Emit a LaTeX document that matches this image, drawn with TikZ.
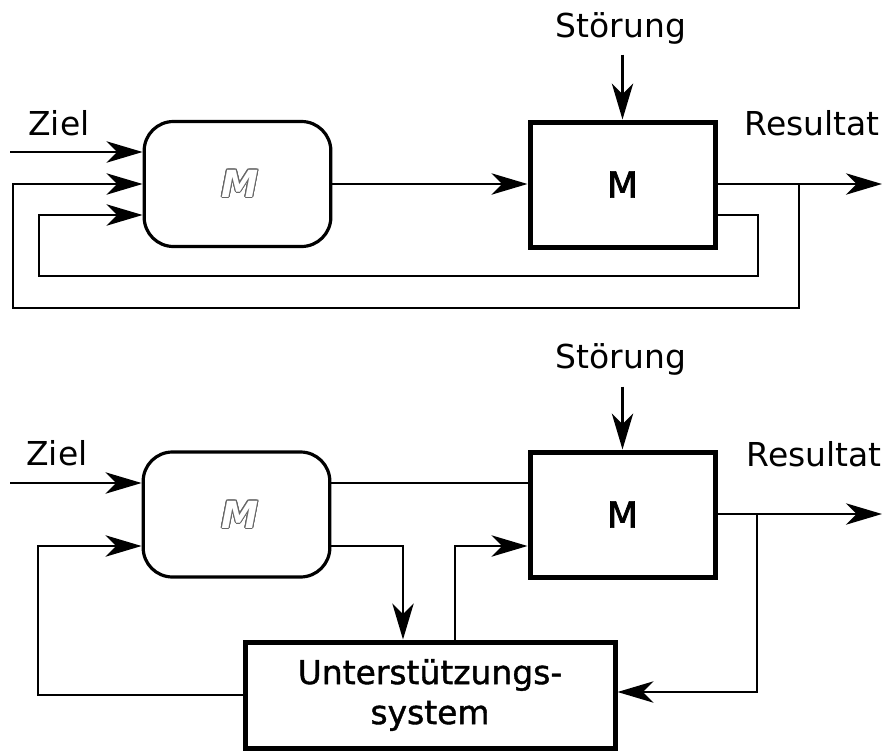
\documentclass[tikz,border=0pt]{standalone}
\usepackage{fontspec}
\setmainfont{DejaVu Sans}
\newfontfamily\semib[FakeBold=1.2]{DejaVu Sans}
\newfontfamily\mbold[FakeBold=2]{DejaVu Sans}
\newfontfamily\moutl[BoldFont={DejaVu Sans Bold Oblique}]{DejaVu Sans Oblique}
\usepackage[copies]{contour}
\contourlength{0.7pt}
\usetikzlibrary{arrows.meta,calc}
\begin{document}
\begin{tikzpicture}[x=0.75pt,y=-0.75pt,
  wire/.style={line width=2.1pt,line join=miter},
  arr/.style={wire,-{Stealth[length=27pt,width=16pt,inset=8pt]}},
  lbl/.style={font=\fontsize{24.7}{30}\selectfont,text=black,inner sep=0pt},
  mbox/.style={draw,line width=3.75pt,minimum width=138.75pt,minimum height=93.75pt,inner sep=0pt,
    font=\mbold\fontsize{27}{30}\selectfont},
  rbox/.style={draw,line width=2.4pt,rounded corners=22pt,minimum width=140pt,minimum height=93.75pt,inner sep=0pt},
  ubox/.style={draw,line width=3.75pt,minimum width=277.5pt,minimum height=79.5pt,inner sep=0pt,align=center,
    font=\semib\fontsize{24.7}{30}\selectfont},
  outm/.style={font=\moutl\bfseries\fontsize{28}{30}\selectfont}
]
\useasboundingbox (0,0) rectangle (889,753);

% ---------------- top diagram ----------------
\node[rbox] (rb1) at (237.5,184) {};
\node[outm] (om1) at (240,184) {\contour{black!60}{\textcolor{white}{M}}};
\node[mbox] (mb1) at (622.5,184.5) {M};
\node[lbl,anchor=base] (st1) at (621,37) {Störung};
\node[lbl,anchor=base] (zi1) at (59,135) {Ziel};
\node[lbl,anchor=base] (re1) at (812,135) {Resultat};

\coordinate (zin1) at (10,152);
\coordinate (s1) at ($(mb1.north)+(0,-65)$);
\coordinate (out1) at (882,184);
\coordinate (br1) at (799,184);
\coordinate (lo1) at (13,308);
\coordinate (ri1) at (758,276);
\coordinate (li1) at (39,276);
\coordinate (row1b) at (0,184);
\coordinate (row1c) at (0,215);

\draw[arr] (s1) -- (mb1.north);
\draw[arr] (zin1) -- (zin1 -| rb1.west);
\draw[arr] (rb1.east |- row1b) -- (mb1.west |- row1b);
\draw[arr] (mb1.east |- row1b) -- (out1);
\draw[arr] (br1) |- (lo1) |- (rb1.west |- row1b);
\draw[arr] (mb1.east |- row1c) -| (ri1) -- (li1) |- (rb1.west |- row1c);

% ---------------- bottom diagram ----------------
\node[rbox] (rb2) at (236.5,514.5) {};
\node[outm] (om2) at (240,515) {\contour{black!60}{\textcolor{white}{M}}};
\node[mbox] (mb2) at (622.5,514.5) {M};
\node[ubox] (us) at (430,695) {Unterstützungs-\\system};
\node[lbl,anchor=base] (st2) at (621,368) {Störung};
\node[lbl,anchor=base] (zi2) at (57,465) {Ziel};
\node[lbl,anchor=base] (re2) at (814,466) {Resultat};

\coordinate (zin2) at (10,483);
\coordinate (s2) at ($(mb2.north)+(0,-63)$);
\coordinate (out2) at (882,514);
\coordinate (br2) at (757,514);
\coordinate (row2a) at (0,483);
\coordinate (row2b) at (0,546);
\coordinate (row2u) at (0,692);
\coordinate (dn) at (403,545);
\coordinate (up) at (455,546);
\coordinate (lft) at (38,695);

\draw[arr] (s2) -- (mb2.north);
\draw[arr] (zin2) -- (zin2 -| rb2.west);
\draw[wire] (rb2.east |- row2a) -- (mb2.west |- row2a);
\draw[arr] (rb2.east |- row2b) -| (dn |- us.north);
\draw[arr] (up |- us.north) |- (mb2.west |- row2b);
\draw[arr] (mb2.east |- out2) -- (out2);
\draw[arr] (br2) |- (us.east |- row2u);
\draw[arr] (us.west) -- (lft) |- (rb2.west |- row2b);
\end{tikzpicture}
\end{document}
